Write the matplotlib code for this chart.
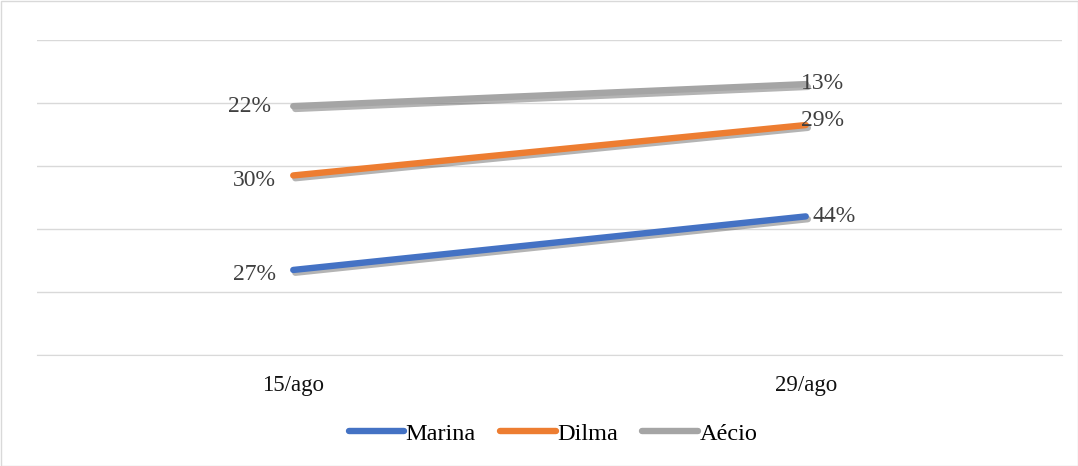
import numpy as np
import matplotlib.pyplot as plt
import matplotlib.patheffects as pe
from matplotlib.patches import Rectangle

# Datos (gráfico de líneas apiladas)
fechas = ['15/ago', '29/ago']
series = ['Marina', 'Dilma', 'Aécio']
marina = [27, 44]
dilma = [30, 29]
aecio = [22, 13]
colores = ['#4472c4', '#ed7d31', '#a5a5a5']

valores = np.array([marina, dilma, aecio])
acumulado = np.cumsum(valores, axis=0)

plt.rcParams['font.family'] = ['Liberation Serif', 'DejaVu Serif']

fig = plt.figure(figsize=(10.78, 4.66), dpi=100)
ax = fig.add_axes([37/1078, 111/466, 1025/1078, 315/466])

x = np.arange(len(fechas))
sombra = [pe.SimpleLineShadow(offset=(1.5, -2), shadow_color='#444444', alpha=0.4),
          pe.Normal()]
for i, nombre in enumerate(series):
    ax.plot(x, acumulado[i], color=colores[i], lw=4.6, solid_capstyle='round',
            label=nombre, path_effects=sombra, zorder=3)

# etiquetas de datos (desplazamientos en píxeles)
offs = {(0, 0): (-17, -5), (1, 0): (-17, -5), (2, 0): (-22, 0),
        (0, 1): (7, 0), (1, 1): (-5, 5), (2, 1): (-5, 1)}
for i in range(len(series)):
    for j in range(len(fechas)):
        dx, dy = offs[(i, j)]
        ax.annotate(f'{valores[i, j]}%', (x[j], acumulado[i, j]),
                    xytext=(dx, dy), textcoords='offset pixels',
                    ha='right' if j == 0 else 'left', va='center',
                    fontsize=17, color='#404040', zorder=4)

ax.set_xlim(-0.5, 1.5)
ax.set_ylim(0, 100)
ax.set_yticks(np.arange(0, 101, 20))
ax.yaxis.grid(True, color='#d9d9d9', lw=1)
ax.tick_params(left=False, labelleft=False, bottom=False, labelsize=16.5,
               labelcolor='#111111', pad=11)
ax.set_xticks(x)
ax.set_xticklabels(fechas)
for s in ['top', 'right', 'left']:
    ax.spines[s].set_visible(False)
ax.spines['bottom'].set_color('#d9d9d9')

leg = fig.legend(loc='center', bbox_to_anchor=(553/1078, 1 - 434/466), ncol=3,
                 frameon=False, fontsize=17.5, handlelength=2.3,
                 handletextpad=0.05, columnspacing=1.0)
for h in leg.get_lines():
    h.set_linewidth(4.6)
    h.set_path_effects([])

fig.patches.append(Rectangle((0.5/1078, 0.5/466), 1 - 1/1078, 1 - 1/466,
                             transform=fig.transFigure, fill=False,
                             edgecolor='#d9d9d9', lw=1))

fig.savefig('out.png', dpi=100)
